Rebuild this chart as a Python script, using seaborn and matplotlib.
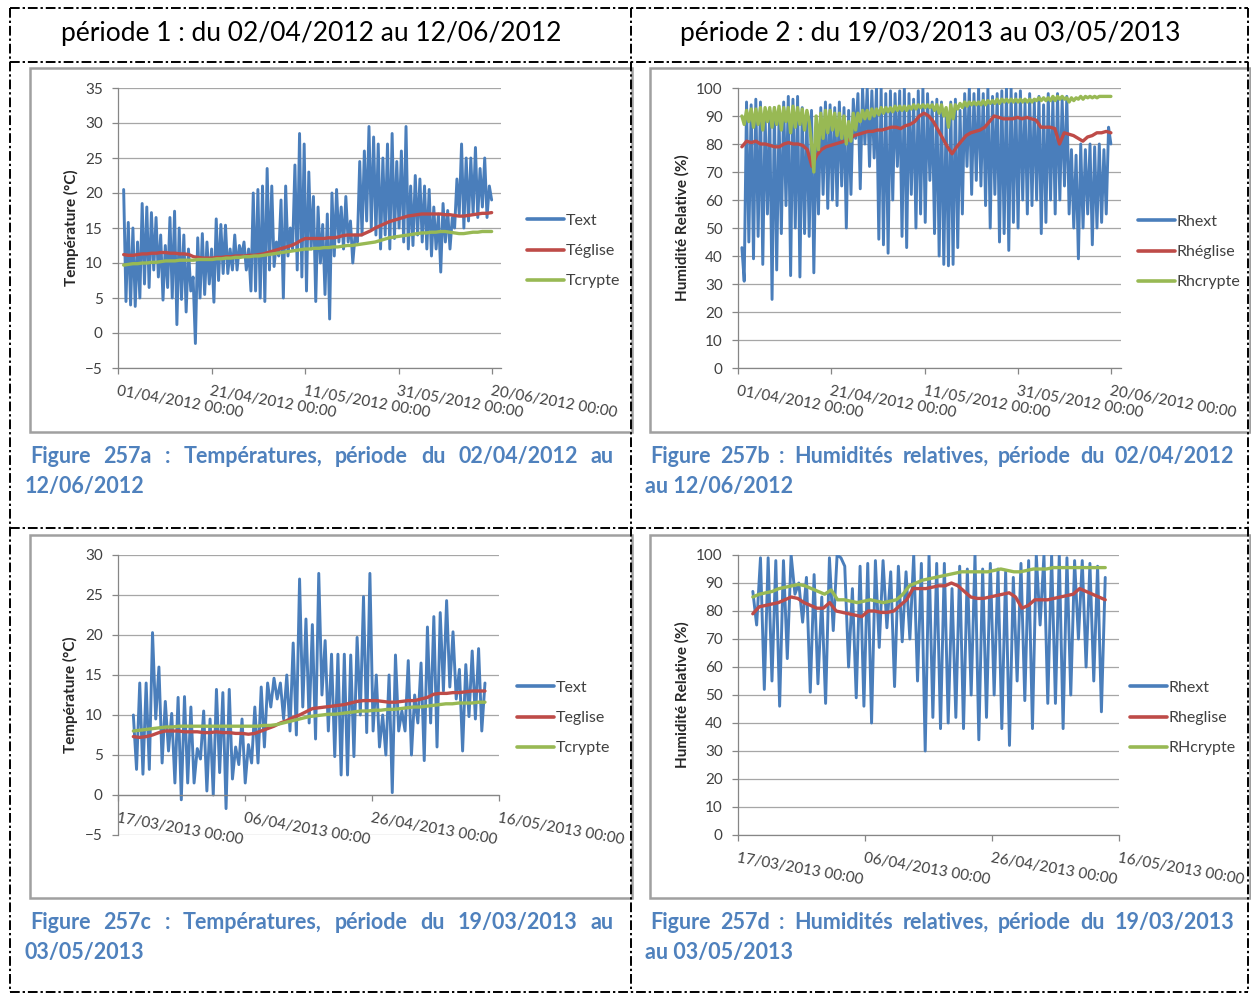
import numpy as np
import pandas as pd
import seaborn as sns
import matplotlib.pyplot as plt
from matplotlib.lines import Line2D
from matplotlib.patches import Rectangle

# ---- période 1 (2012) : températures, 2 valeurs par jour (max, min)
text_2012 = [20.5, 4.5, 15.8, 4.0, 15.0, 3.8, 13.0, 5.0, 18.5, 7.0,
             18.0, 6.5, 17.2, 9.0, 16.5, 8.0, 14.0, 4.7, 12.5, 6.5,
             16.5, 5.0, 17.4, 1.2, 15.0, 4.8, 14.0, 3.0, 12.0, 6.0,
             8.0, -1.5, 13.6, 5.0, 14.2, 5.5, 13.0, 7.0, 12.0, 4.4,
             16.3, 7.5, 15.5, 8.5, 15.4, 8.5, 12.0, 9.0, 14.0, 9.0,
             12.5, 11.0, 13.0, 9.0, 12.0, 6.0, 20.0, 6.0, 20.5, 5.0,
             21.0, 4.5, 23.5, 9.0, 21.0, 9.5, 13.0, 11.0, 19.0, 5.0,
             21.0, 11.0, 15.0, 12.0, 24.0, 9.0, 28.5, 8.0, 27.0, 6.0,
             23.0, 12.0, 19.5, 4.5, 18.0, 10.0, 15.5, 5.5, 17.0, 2.0,
             20.0, 11.0, 20.5, 13.0, 18.0, 12.0, 19.5, 13.0, 16.0, 10.0,
             14.0, 13.0, 24.5, 14.0, 26.0, 16.0, 29.5, 15.0, 28.0, 14.0,
             27.0, 12.0, 25.0, 14.0, 27.0, 12.0, 28.5, 13.5, 24.5, 15.0,
             26.0, 13.0, 29.5, 12.0, 21.0, 12.5, 22.5, 14.0, 22.0, 13.0,
             21.0, 12.0, 20.5, 11.0, 18.0, 12.0, 17.0, 8.7, 18.5, 13.0,
             17.5, 12.0, 16.5, 15.0, 22.0, 17.0, 27.0, 15.0, 25.0, 16.0,
             25.0, 17.0, 26.5, 16.5, 23.5, 18.0, 25.0, 16.5, 21.0, 19.0]
teglise_2012 = [11.2, 11.1, 11.1, 11.2, 11.3, 11.3, 11.4, 11.4, 11.5, 11.5,
                11.4, 11.4, 11.3, 11.3, 11.2, 10.9, 10.8, 10.7, 10.7, 10.7,
                10.8, 10.8, 10.9, 10.9, 11.0, 11.0, 11.0, 11.1, 11.1, 11.2,
                11.3, 11.5, 11.7, 11.9, 12.1, 12.3, 12.5, 12.8, 13.2, 13.5,
                13.5, 13.5, 13.5, 13.5, 13.6, 13.6, 13.7, 13.9, 14.0, 14.0,
                14.0, 14.0, 14.3, 14.6, 15.0, 15.3, 15.6, 15.9, 16.1, 16.3,
                16.5, 16.7, 16.8, 16.9, 17.0, 17.0, 17.0, 17.0, 17.0, 16.9,
                16.9, 16.8, 16.7, 16.7, 16.8, 16.9, 17.0, 17.1, 17.1, 17.2]
tcrypte_2012 = [9.7, 9.8, 9.9, 9.9, 10.0, 10.0, 10.1, 10.1, 10.2, 10.3,
                10.3, 10.3, 10.4, 10.4, 10.4, 10.4, 10.5, 10.5, 10.5, 10.5,
                10.6, 10.6, 10.7, 10.7, 10.8, 10.8, 10.9, 10.9, 11.0, 11.0,
                11.1, 11.2, 11.3, 11.4, 11.5, 11.6, 11.7, 11.8, 11.9, 12.0,
                12.0, 12.1, 12.1, 12.2, 12.2, 12.3, 12.3, 12.4, 12.5, 12.5,
                12.6, 12.7, 12.8, 12.9, 13.0, 13.2, 13.4, 13.6, 13.7, 13.8,
                13.9, 14.0, 14.1, 14.2, 14.3, 14.3, 14.4, 14.4, 14.5, 14.5,
                14.4, 14.3, 14.2, 14.2, 14.3, 14.4, 14.4, 14.5, 14.5, 14.5]

# ---- période 1 (2012) : humidités relatives
rhext_2012 = [43, 31, 95, 45, 94, 39, 96, 47, 95, 37,
              90, 55, 92, 24.5, 93, 35, 90, 48, 95, 58,
              97, 33, 96, 50, 97, 32.5, 93, 48, 90, 47,
              92, 34, 85, 55, 93, 62, 95, 57, 94, 60,
              93, 58, 95, 65, 93, 50, 92, 62, 96, 82,
              98, 64, 100, 80, 100, 72, 99, 75, 100, 46,
              100, 44, 98, 41, 99, 60, 98, 72, 99, 47,
              100, 43, 98, 62, 96, 50, 99, 55, 100, 52,
              98, 67, 95, 48, 96, 40, 95, 37, 90, 36.5,
              95, 37, 96, 43, 92, 55, 98, 72, 100, 62,
              98, 67, 100, 65, 98, 58, 100, 50, 97, 62,
              98, 45, 99, 48, 100, 42, 100, 52, 98, 50,
              99, 60, 95, 55, 98, 58, 95, 60, 97, 48,
              94, 52, 98, 60, 96, 55, 98, 60, 96, 65,
              97, 55, 78, 50, 76, 39, 80, 50, 78, 55,
              80, 44, 79, 50, 80, 52, 78, 55, 86, 80]
rheglise_2012 = [79, 81, 80.5, 81, 80, 80, 79.5, 79, 79, 80,
                 80.5, 80, 80, 79.5, 78, 72, 76, 78, 79, 79.5,
                 80, 80.5, 81, 81.5, 83, 83.5, 84, 84.5, 84.5, 85,
                 85, 85.5, 86, 86, 85.5, 86.5, 87, 88, 90, 91,
                 90, 88, 85, 82, 79, 76.5, 79, 81, 83, 84,
                 84.5, 85, 86, 88, 90, 89.5, 89, 89, 89, 89.5,
                 89, 89.5, 89, 88.5, 86, 86, 86, 85.5, 80, 84,
                 83.5, 83, 82, 81, 82.5, 83, 84, 84, 84.5, 84]
rhcrypte_2012 = [90, 87, 92, 88, 92.5, 86, 92.5, 87, 93, 85,
                 93, 88, 93, 86, 93, 87, 93.5, 85, 93, 88,
                 93, 84, 93.5, 86, 93, 87, 92.5, 85, 92, 88,
                 80, 70, 90, 78, 91, 82, 92, 84, 92, 85,
                 91, 83, 91, 82, 90, 80, 88, 81, 91, 85,
                 91, 88, 92, 89, 92, 89, 92.5, 90, 92.5, 90.5,
                 93, 91, 93, 91.5, 93, 91.5, 93.5, 92, 93.5, 92,
                 93.5, 92, 93.5, 92.5, 94, 92.5, 94, 93, 94, 93,
                 94, 93, 94, 92, 94, 91, 94, 90, 93, 86,
                 94, 89, 94, 92.5, 94.5, 93, 95, 93.5, 95, 94,
                 95, 94, 95, 94, 95.5, 94, 95.5, 94.5, 95.5, 94.5,
                 96, 94.5, 96, 95, 96, 95, 96, 95, 96, 95,
                 96, 95, 96, 95, 96, 95, 96, 95.5, 96.5, 95.5,
                 96.5, 95.5, 96.5, 95.5, 97, 95.5, 97, 96, 97, 96,
                 96.5, 95, 96.5, 95.5, 96.5, 96, 97, 96, 97, 96.5,
                 97, 96.5, 97, 96.5, 97, 97, 97, 97, 97, 97]

# ---- période 2 (2013) : températures
text_2013 = [10, 3.2, 14, 2.6, 14, 3.2, 20.3, 9.5, 16, 4,
             11.7, 5.5, 10.2, 1.5, 12.2, -0.6, 12.3, 1.5, 11, 1.5,
             5.8, 4.5, 10.5, 0.5, 9.5, 0, 13.2, 2.8, 12.8, -1.7,
             13.2, 2, 6, 3.8, 9.5, 1.5, 6.3, 4, 11, 4,
             13.5, 6, 14, 11, 14.6, 12, 14, 9.5, 15, 8,
             19, 7.5, 27, 11, 22, 9, 21.3, 7, 27.7, 12.5,
             19.3, 8, 17.6, 4.8, 17.6, 2.5, 17.6, 2.5, 17.5, 4.8,
             19.7, 10, 24.8, 7.8, 27.7, 8, 15, 6, 10, 5,
             15, 0.3, 17.5, 8, 10.5, 8, 16.8, 5, 12.5, 9,
             16.5, 4.3, 21, 9, 22.3, 6, 22.8, 13, 24.3, 13.5,
             20.4, 12, 15.7, 5.5, 16.3, 9.8, 18, 9.5, 18.3, 8, 14]
teglise_2013 = [7.3, 7.2, 7.3, 7.5, 7.8, 8.0, 8.0, 8.0, 7.9, 7.9,
                7.9, 7.8, 7.8, 7.9, 7.8, 7.8, 7.7, 7.7, 7.6, 7.7,
                8.0, 8.3, 8.6, 9.0, 9.3, 9.7, 10.0, 10.4, 10.8, 10.9,
                11.0, 11.1, 11.2, 11.3, 11.5, 11.7, 11.8, 11.8, 11.8, 11.7,
                11.6, 11.6, 11.7, 11.8, 11.8, 12.0, 12.2, 12.6, 12.7, 12.7,
                12.8, 12.8, 12.9, 13.0, 13.0, 13.0]
tcrypte_2013 = [8.0, 8.1, 8.2, 8.3, 8.4, 8.5, 8.5, 8.6, 8.6, 8.6,
                8.6, 8.6, 8.6, 8.6, 8.6, 8.6, 8.6, 8.6, 8.6, 8.6,
                8.7, 8.7, 8.8, 9.0, 9.2, 9.4, 9.6, 9.8, 9.9, 10.0,
                10.1, 10.1, 10.2, 10.3, 10.4, 10.5, 10.5, 10.6, 10.6, 10.7,
                10.7, 10.8, 10.9, 11.0, 11.0, 11.1, 11.2, 11.3, 11.4, 11.4,
                11.5, 11.5, 11.5, 11.6, 11.6]

# ---- période 2 (2013) : humidités relatives
rhext_2013 = [87, 75, 99, 52, 99, 55, 98, 46, 98, 63,
              100, 86, 90, 76, 92, 51, 93, 54, 85, 47,
              99, 73, 100, 99, 96, 60, 88, 49, 96, 46,
              97, 40, 98, 67, 98, 74, 94, 53, 96, 69,
              94, 70, 100, 55, 97, 30, 100, 42, 97, 38,
              97, 40, 88, 42, 96, 38, 95, 50, 100, 34,
              95, 42, 97, 50, 95, 38, 94, 32, 92, 55,
              97, 48, 98, 38, 100, 75, 100, 47, 100, 47,
              100, 38, 99, 50, 98, 70, 98, 60, 97, 55,
              96, 44, 92]
rheglise_2013 = [79, 81.5, 82, 82.5, 83, 84, 85, 84.5, 83, 82,
                 81, 81, 83, 80, 79.5, 79, 78.5, 78, 80, 80,
                 79.5, 79.5, 80, 82, 84, 88, 88, 88, 88.5, 89,
                 89, 90, 89, 87, 85, 84.5, 84.5, 85, 85.5, 86,
                 86.5, 85, 81, 82, 84, 84, 84, 84.5, 85, 85.5,
                 86, 88, 87, 86, 85, 84]
rhcrypte_2013 = [85, 86, 86.5, 87, 88, 88.5, 89, 89.5, 89, 88,
                 87, 86, 87.5, 84, 84, 83.5, 83, 83.5, 84, 83.5,
                 83, 83.5, 84, 86, 89, 90, 91, 91.5, 92, 92.5,
                 93, 93.5, 94, 94, 94, 94, 94, 94.5, 95, 94.5,
                 94, 94, 94.5, 95, 95, 95, 95.5, 95.5, 95.5, 95.5,
                 95.5, 95.5, 95.5, 95.5, 95.5]

ticks_2012 = ['2012-04-01', '2012-04-21', '2012-05-11', '2012-05-31', '2012-06-20']
ticks_2013 = ['2013-03-17', '2013-04-06', '2013-04-26', '2013-05-16']

BLUE, RED, GREEN = '#4A7EBB', '#BE4B48', '#98B954'
CAPTION = '#4F81BD'

sns.set_theme(style="white")
plt.rcParams['font.family'] = ['Lato', 'DejaVu Sans']

W, H = 1251, 993
fig = plt.figure(figsize=(W / 100, H / 100), dpi=100)


def fx(x):
    return x / W


def fy(y):
    return 1 - y / H


def panel(box, series, ylim, ystep, xlim, xticks, ylabel, ylab_x, leg_xy, cross_zero=False):
    x0, y0, x1, y1 = box
    ax = fig.add_axes([fx(x0), fy(y1), (x1 - x0) / W, (y1 - y0) / H])
    for label, start, end, vals, color, lw in series:
        t = pd.date_range(start, end, periods=len(vals))
        sns.lineplot(x=t, y=vals, ax=ax, color=color, lw=lw, label=label)
    if cross_zero:
        ax.spines['bottom'].set_position(('data', 0))
    ax.set_ylim(*ylim)
    ax.set_yticks(np.arange(ylim[0], ylim[1] + 1, ystep))
    ax.set_xlim(pd.Timestamp(xlim[0]), pd.Timestamp(xlim[1]))
    ts = [pd.Timestamp(d) for d in xticks]
    ax.set_xticks(ts)
    ax.set_xticklabels([d.strftime('%d/%m/%Y %H:%M') for d in ts], rotation=-10,
                       ha='left', va='top', rotation_mode='anchor')
    ax.yaxis.grid(True, color='#A6A6A6', lw=0.9)
    ax.xaxis.grid(False)
    ax.set_axisbelow(True)
    for s in ['top', 'right']:
        ax.spines[s].set_visible(False)
    for s in ['left', 'bottom']:
        ax.spines[s].set_color('#868686')
        ax.spines[s].set_linewidth(0.9)
    ax.tick_params(axis='both', bottom=True, left=True, direction='out', length=4,
                   width=0.9, color='#868686', labelsize=11, labelcolor='#404040')
    ax.tick_params(axis='x', pad=8)
    ax.tick_params(axis='y', pad=7)
    ax.set_xlabel('')
    ax.set_ylabel(ylabel, fontsize=11, fontweight='bold', color='#262626')
    ax.yaxis.set_label_coords((ylab_x - x0) / (x1 - x0), 0.5)
    leg = ax.legend(loc='center left', bbox_to_anchor=(fx(leg_xy[0]), fy(leg_xy[1])),
                    bbox_transform=fig.transFigure, frameon=False, fontsize=11.5,
                    handlelength=2.3, handletextpad=0.12, labelspacing=1.0,
                    borderpad=0, borderaxespad=0)
    for ln in leg.get_lines():
        ln.set_linewidth(2.6)
    for tx in leg.get_texts():
        tx.set_color('#404040')
    return ax


# cadres des graphiques
for bx in [(30, 68, 632, 432), (650, 68, 1250, 432), (30, 535, 632, 898), (650, 535, 1250, 898)]:
    fig.add_artist(Rectangle((fx(bx[0]), fy(bx[3])), (bx[2] - bx[0]) / W, (bx[3] - bx[1]) / H,
                             transform=fig.transFigure, fill=False, edgecolor='#A0A0A0', lw=1.8))

panel((118, 88, 501, 368),
      [('Text', '2012-04-02 05:00', '2012-06-19 22:00', text_2012, BLUE, 2.1),
       ('Téglise', '2012-04-02 05:00', '2012-06-19 22:00', teglise_2012, RED, 2.4),
       ('Tcrypte', '2012-04-02 05:00', '2012-06-19 22:00', tcrypte_2012, GREEN, 2.4)],
      (-5, 35), 5, ('2012-04-01', '2012-06-21 22:00'), ticks_2012,
      'Température (°C)', 79, (527, 251))

panel((738, 88, 1121, 368),
      [('Rhext', '2012-04-01 20:00', '2012-06-19 22:00', rhext_2012, BLUE, 2.1),
       ('Rhéglise', '2012-04-01 20:00', '2012-06-19 22:00', rheglise_2012, RED, 2.4),
       ('Rhcrypte', '2012-04-01 20:00', '2012-06-19 22:00', rhcrypte_2012, GREEN, 2.4)],
      (0, 100), 10, ('2012-04-01', '2012-06-22 02:00'), ticks_2012,
      'Humidité Relative (%)', 690, (1138, 252))

panel((118, 555, 499, 835),
      [('Text', '2013-03-19 10:00', '2013-05-13 19:00', text_2013, BLUE, 2.1),
       ('Teglise', '2013-03-19 10:00', '2013-05-13 19:00', teglise_2013, RED, 2.4),
       ('Tcrypte', '2013-03-19 10:00', '2013-05-13 19:00', tcrypte_2013, GREEN, 2.4)],
      (-5, 30), 5, ('2013-03-17', '2013-05-16'), ticks_2013,
      'Température (°C)', 78, (517, 718), cross_zero=True)

panel((738, 555, 1119, 835),
      [('Rhext', '2013-03-19 08:00', '2013-05-13 20:00', rhext_2013, BLUE, 2.1),
       ('Rheglise', '2013-03-19 08:00', '2013-05-13 20:00', rheglise_2013, RED, 2.4),
       ('RHcrypte', '2013-03-19 08:00', '2013-05-13 20:00', rhcrypte_2013, GREEN, 2.4)],
      (0, 100), 10, ('2013-03-17', '2013-05-16'), ticks_2013,
      'Humidité Relative (%)', 690, (1130, 718))

# bordures pointillées du tableau
dash = (0, (5, 1.5, 1.2, 1.5))
for (xa, ya, xb, yb) in [(10, 8, 1248, 8), (10, 62, 1248, 62), (10, 528, 1248, 528),
                         (10, 992, 1248, 992), (10, 8, 10, 992), (1248, 8, 1248, 992),
                         (631, 8, 631, 992)]:
    fig.add_artist(Line2D([fx(xa), fx(xb)], [fy(ya), fy(yb)], transform=fig.transFigure,
                          color='black', lw=1.4, linestyle=dash))

fig.text(fx(311), fy(34), 'période 1 : du 02/04/2012 au 12/06/2012', ha='center', va='center',
         fontsize=19, color='black')
fig.text(fx(930), fy(34), 'période 2 : du 19/03/2013 au 03/05/2013', ha='center', va='center',
         fontsize=19, color='black')

renderer = fig.canvas.get_renderer()


def justified(line, x0, x1, y):
    words = line.split()
    texts = [fig.text(0, fy(y), w, ha='left', va='baseline', fontsize=15.5,
                      fontweight='bold', color=CAPTION) for w in words]
    widths = [t.get_window_extent(renderer).width for t in texts]
    gap = ((x1 - x0) - sum(widths)) / (len(words) - 1)
    x = x0
    for t, w in zip(texts, widths):
        t.set_x(fx(x))
        x += w + gap


def caption(l1, l2, x0, x1, y):
    justified(l1, x0, x1, y)
    fig.text(fx(x0 - 5), fy(y + 30), l2, ha='left', va='baseline', fontsize=15.5,
             fontweight='bold', color=CAPTION)


caption('Figure 257a : Températures, période du 02/04/2012 au', '12/06/2012', 30, 614, 463)
caption('Figure 257b : Humidités relatives, période du 02/04/2012', 'au 12/06/2012', 650, 1234, 463)
caption('Figure 257c : Températures, période du 19/03/2013 au', '03/05/2013', 30, 614, 929)
caption('Figure 257d : Humidités relatives, période du 19/03/2013', 'au 03/05/2013', 650, 1234, 929)

fig.savefig('out.png', dpi=100)
